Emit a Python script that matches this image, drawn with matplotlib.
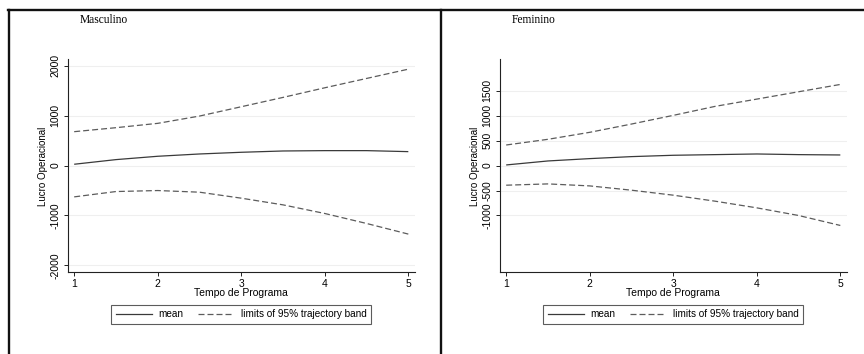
import numpy as np
import matplotlib.pyplot as plt
from matplotlib.lines import Line2D

# values, at half-year steps
tempo = [1, 1.5, 2, 2.5, 3, 3.5, 4, 4.5, 5]

masc_mean = [27, 120, 187, 233, 267, 293, 300, 300, 280]
masc_upper = [680, 760, 847, 993, 1180, 1367, 1560, 1747, 1933]
masc_lower = [-627, -520, -500, -533, -653, -787, -960, -1160, -1373]

fem_mean = [13, 93, 140, 180, 207, 220, 233, 220, 213]
fem_upper = [413, 527, 667, 833, 1007, 1187, 1333, 1480, 1627]
fem_lower = [-393, -367, -407, -493, -593, -713, -847, -1000, -1200]

panels = ['Masculino', 'Feminino']
masc_ticks = [-2000, -1000, 0, 1000, 2000]
fem_ticks = [-1000, -500, 0, 500, 1000, 1500]
x_ticks = [1, 2, 3, 4, 5]

W, H = 864, 354
fig = plt.figure(figsize=(W / 100, H / 100), dpi=100)
fig.patch.set_facecolor('white')

sans = 'Liberation Sans'
serif = 'Liberation Serif'
dash = (0, (4.8, 2.4))


def px(x, y):
    return x / W, 1 - y / H


data = [(masc_mean, masc_upper, masc_lower, masc_ticks),
        (fem_mean, fem_upper, fem_lower, fem_ticks)]

for i, (name, (mean, upper, lower, yt)) in enumerate(zip(panels, data)):
    off = 432 * i
    x0, y0 = px(67.5 + off, 272)
    ax = fig.add_axes([x0, y0, (415 - 67.5) / W, (272 - 58.5) / H])

    ax.plot(tempo, mean, color='#3a3a3a', lw=0.9, solid_capstyle='butt')
    ax.plot(tempo, upper, color='#5c5c5c', lw=0.9, linestyle=dash)
    ax.plot(tempo, lower, color='#5c5c5c', lw=0.9, linestyle=dash)

    ax.set_xlim(0.92, 5.08)
    ax.set_ylim(-2133, 2147)
    ax.set_xticks(x_ticks)
    ax.set_yticks(yt)
    ax.set_yticklabels([str(v) for v in yt], rotation=90, va='center',
                       fontsize=7.5, family=sans)
    ax.set_xticklabels([str(v) for v in x_ticks], fontsize=7.5, family=sans)
    ax.tick_params(axis='both', direction='out', length=3, width=0.7,
                   color='#222222', pad=2)
    ax.grid(axis='y', color='#efefef', lw=0.8)
    ax.set_axisbelow(True)
    for s in ['top', 'right']:
        ax.spines[s].set_visible(False)
    for s in ['left', 'bottom']:
        ax.spines[s].set_linewidth(0.8)
        ax.spines[s].set_color('#222222')

    ax.set_xlabel('Tempo de Programa', fontsize=7.5, family=sans, labelpad=-1)

    tx, ty = px(80 + off, 20)
    fig.text(tx, ty, name, fontsize=8.3, family=serif, va='center', ha='left')
    lx, ly = px(43 + off, 166)
    fig.text(lx, ly, 'Lucro Operacional', fontsize=7, family=sans,
             rotation=90, va='center', ha='center')

    handles = [Line2D([], [], color='#3a3a3a', lw=0.9),
               Line2D([], [], color='#5c5c5c', lw=0.9, linestyle=dash)]
    bx, by = px(241 + off, 314)
    leg = fig.legend(handles, ['mean', 'limits of 95% trajectory band'],
                     loc='center', bbox_to_anchor=(bx, by), ncol=2,
                     prop={'family': sans, 'size': 7.2}, frameon=True,
                     fancybox=False, handlelength=3.6, handletextpad=0.7,
                     columnspacing=1.4, borderpad=0.45)
    leg.get_frame().set_edgecolor('#333333')
    leg.get_frame().set_linewidth(0.8)

# outer frame of the graph window
border = dict(color='#111111', lw=1.7, transform=fig.transFigure)
fig.add_artist(Line2D([8 / W, 1], [1 - 10 / H] * 2, **border))
fig.add_artist(Line2D([9 / W] * 2, [0, 1 - 10 / H], **border))
fig.add_artist(Line2D([441 / W] * 2, [0, 1 - 10 / H], **border))

fig.savefig('out.png', dpi=100)
